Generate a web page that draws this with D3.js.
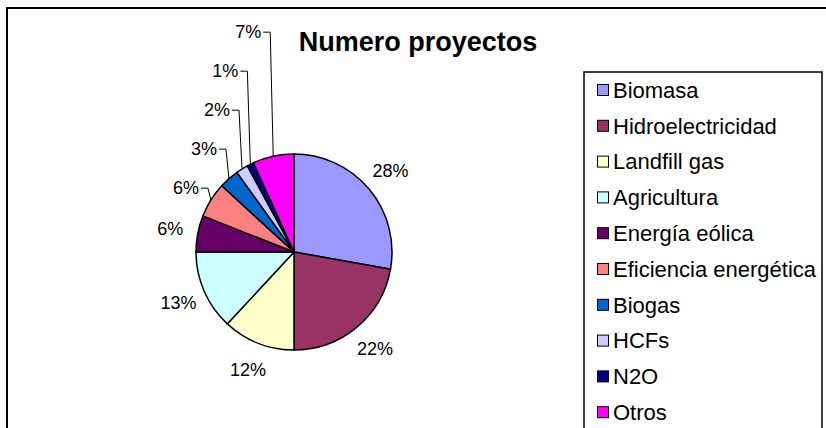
<!DOCTYPE html>
<meta charset="utf-8">
<html>
<script src="https://cdn.jsdelivr.net/npm/d3@7"></script>
<style>
  body { margin: 0; background: #fff; }
  text { font-family: "Liberation Sans", Arial, sans-serif; }
</style>
<div id="chart"></div>
<script>

// data (share of projects, %)
var categories = ["Biomasa", "Hidroelectricidad", "Landfill gas", "Agricultura", "Energía eólica",
                  "Eficiencia energética", "Biogas", "HCFs", "N2O", "Otros"];
var values = [27.8, 22.2, 11.9, 13.1, 6.0, 5.8, 3.3, 2.0, 1.1, 6.8];
var colors = ["#9999FF", "#993366", "#FFFFCC", "#CCFFFF", "#660066",
              "#FF8080", "#0066CC", "#CCCCFF", "#000080", "#FF00FF"];

var width = 826,
    height = 428;

var cx = 294, cy = 252, radius = 98;

var svg = d3.select("#chart")
  .append("svg")
    .attr("width", width)
    .attr("height", height);

// outer chart frame (right/bottom edges fall outside the window)
svg.append("rect")
    .attr("x", 7)
    .attr("y", 8)
    .attr("width", 900)
    .attr("height", 500)
    .attr("fill", "none")
    .attr("stroke", "#000")
    .attr("stroke-width", 2);

// title
svg.append("text")
    .attr("x", 418)
    .attr("y", 51)
    .attr("text-anchor", "middle")
    .style("font-size", "27px")
    .style("font-weight", "bold")
    .text("Numero proyectos");

var color = d3.scaleOrdinal().domain(categories).range(colors);

var pie = d3.pie().sort(null).value(function(d) { return d.value; });
var data_ready = pie(categories.map(function(c, i) { return {key: c, value: values[i]}; }));
var total = d3.sum(values);

var arc = d3.arc().innerRadius(0).outerRadius(radius);

var g = svg.append("g")
    .attr("transform", "translate(" + cx + "," + cy + ")");

g.selectAll("path")
  .data(data_ready)
  .enter()
  .append("path")
    .attr("d", arc)
    .attr("fill", function(d) { return color(d.data.key); })
    .attr("stroke", "#000")
    .style("stroke-width", "1.5px");

// labels: plain ones sit on a ring, crowded ones at the upper left get stacked with leader lines
var labelR = 126;
var fmt = d3.format(".0%");
var prevY = null;

data_ready.forEach(function(d) {
  var mid = (d.startAngle + d.endAngle) / 2;
  var lx = labelR * Math.sin(mid),
      ly = -labelR * Math.cos(mid);
  var txt = fmt(d.data.value / total);

  if (mid < 0.8 * 2 * Math.PI) {
    g.append("text")
        .attr("x", lx)
        .attr("y", ly)
        .attr("dy", ".35em")
        .attr("text-anchor", "middle")
        .style("font-size", "18px")
        .text(txt);
  } else {
    // edge point of the slice
    var ex = radius * Math.sin(mid),
        ey = -radius * Math.cos(mid);
    var y = prevY === null ? ly + 3 : Math.min(ly, prevY - 39);
    prevY = y;
    g.append("text")
        .attr("x", ex - 12)
        .attr("y", y)
        .attr("dy", ".35em")
        .attr("text-anchor", "end")
        .style("font-size", "18px")
        .text(txt);
    g.append("path")
        .attr("d", "M" + (ex - 10) + "," + y + "L" + (ex - 3) + "," + y + "L" + ex + "," + ey)
        .attr("fill", "none")
        .attr("stroke", "#000")
        .attr("stroke-width", 1);
  }
});

// legend
svg.append("rect")
    .attr("x", 584)
    .attr("y", 72)
    .attr("width", 238)
    .attr("height", 400)
    .attr("fill", "#fff")
    .attr("stroke", "#000")
    .attr("stroke-width", 1.5);

var legend = svg.selectAll(".legend")
    .data(categories)
    .enter().append("g")
    .attr("class", "legend")
    .attr("transform", function(d, i) { return "translate(0," + (90 + i * 35.8) + ")"; });

legend.append("rect")
    .attr("x", 597.5)
    .attr("y", -5.5)
    .attr("width", 11)
    .attr("height", 11)
    .attr("stroke", "#000")
    .attr("stroke-width", 1)
    .style("fill", function(d) { return color(d); });

legend.append("text")
    .attr("x", 613)
    .attr("y", 0)
    .attr("dy", ".35em")
    .style("text-anchor", "start")
    .style("font-size", "22px")
    .text(function(d) { return d; });
</script>
</html>
